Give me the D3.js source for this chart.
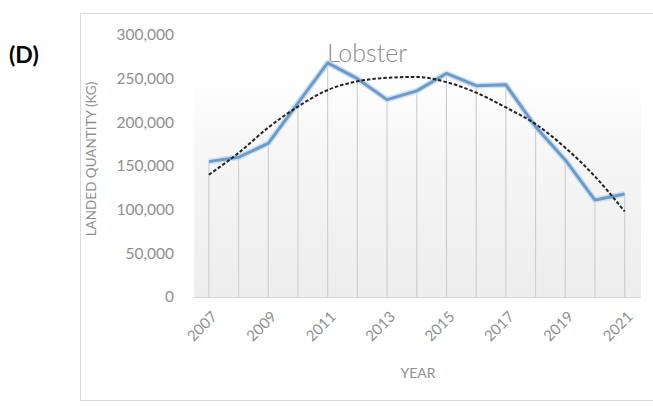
<!DOCTYPE html>
<html>
<head>
<meta charset="utf-8">
<script src="https://cdn.jsdelivr.net/npm/d3@7"></script>
<style>
  body { margin: 0; background: #fff; }
  text { font-family: Lato, "Open Sans", sans-serif; }
</style>
</head>
<body>
<svg width="653" height="407"></svg>
<script>
// values
var years = [2007, 2008, 2009, 2010, 2011, 2012, 2013, 2014, 2015, 2016, 2017, 2018, 2019, 2020, 2021];
var landed = [155000, 160000, 176000, 222000, 268000, 250000, 226000, 236000, 256000, 242000, 243000, 195000, 157000, 111000, 118000];
var trend = [140000, 165000, 194000, 218000, 237000, 247000, 251000, 252000, 246000, 234000, 217000, 198000, 171000, 138000, 98000];
var yTicks = [0, 50000, 100000, 150000, 200000, 250000, 300000];
var xLabels = [2007, 2009, 2011, 2013, 2015, 2017, 2019, 2021];

var svg = d3.select("svg");
var M = {left: 194, right: 641, top: 35, bottom: 297};

// frame
svg.append("rect")
    .attr("x", 80.5).attr("y", 13.5)
    .attr("width", 580).attr("height", 387)
    .attr("fill", "#fff")
    .attr("stroke", "#d9d9d9");

svg.append("text")
    .attr("x", 9).attr("y", 63)
    .attr("font-size", 23).attr("font-weight", "bold")
    .attr("fill", "#000")
    .text("(D)");

var x = d3.scaleLinear().domain([2006.5, 2021.55]).range([M.left, M.right]);
var y = d3.scaleLinear().domain([0, 300000]).range([M.bottom, M.top]);

// plot background gradient
var defs = svg.append("defs");
var grad = defs.append("linearGradient").attr("id", "bg")
    .attr("x1", 0).attr("y1", 0).attr("x2", 0).attr("y2", 1);
grad.append("stop").attr("offset", "0%").attr("stop-color", "#ffffff");
grad.append("stop").attr("offset", "30%").attr("stop-color", "#f7f7f7");
grad.append("stop").attr("offset", "100%").attr("stop-color", "#ededed");

svg.append("rect")
    .attr("x", M.left).attr("y", y(255000))
    .attr("width", M.right - M.left).attr("height", M.bottom - y(255000))
    .attr("fill", "url(#bg)");

// drop lines from each point
svg.append("g")
    .selectAll("line")
    .data(years)
    .enter().append("line")
    .attr("x1", d => x(d)).attr("x2", d => x(d))
    .attr("y1", (d, i) => y(landed[i])).attr("y2", M.bottom)
    .attr("stroke", "#cfcfcf").attr("stroke-width", 1.2);

svg.append("line")
    .attr("x1", M.left).attr("x2", M.right)
    .attr("y1", M.bottom + 0.5).attr("y2", M.bottom + 0.5)
    .attr("stroke", "#d6d6d6");

// y axis
var yAxis = svg.append("g")
    .attr("transform", "translate(" + (M.left - 17) + ",0)")
    .call(d3.axisLeft(y).tickValues(yTicks).tickSize(0).tickFormat(d3.format(",")));
yAxis.select(".domain").remove();
yAxis.selectAll("text")
    .attr("font-size", 15.5).attr("fill", "#8f8f8f")
    .attr("font-family", "Lato, sans-serif");

// x axis
var xAxis = svg.append("g")
    .attr("transform", "translate(0," + M.bottom + ")")
    .call(d3.axisBottom(x).tickValues(xLabels).tickSize(0).tickFormat(d3.format("d")));
xAxis.select(".domain").remove();
xAxis.selectAll("text")
    .attr("font-size", 15).attr("fill", "#8f8f8f")
    .attr("font-family", "Lato, sans-serif")
    .attr("text-anchor", "end")
    .attr("y", 0)
    .attr("dy", "0.35em")
    .attr("transform", "translate(5,17) rotate(-45)");

// axis titles
svg.append("text")
    .attr("transform", "translate(96,159) rotate(-90)")
    .attr("text-anchor", "middle")
    .attr("font-size", 13.5).attr("fill", "#8f8f8f")
    .text("LANDED QUANTITY (KG)");

svg.append("text")
    .attr("x", 418).attr("y", 378)
    .attr("text-anchor", "middle")
    .attr("font-size", 14).attr("fill", "#8f8f8f")
    .text("YEAR");

svg.append("text")
    .attr("x", 367).attr("y", 62)
    .attr("text-anchor", "middle")
    .attr("font-size", 25).attr("font-weight", 300).attr("fill", "#8c8c8c")
    .text("Lobster");

// data line
var line = d3.line()
    .x((d, i) => x(years[i]))
    .y(d => y(d));

svg.append("path")
    .datum(landed)
    .attr("d", line)
    .attr("fill", "none")
    .attr("stroke", "#cfe1f2")
    .attr("stroke-width", 6)
    .attr("stroke-linejoin", "round");

svg.append("path")
    .datum(landed)
    .attr("d", line)
    .attr("fill", "none")
    .attr("stroke", "#6a9bcb")
    .attr("stroke-width", 3)
    .attr("stroke-linejoin", "round");

// trend line
svg.append("path")
    .datum(trend)
    .attr("d", line.curve(d3.curveMonotoneX))
    .attr("fill", "none")
    .attr("stroke", "#222")
    .attr("stroke-width", 2)
    .attr("stroke-dasharray", "3.5,2");
</script>
</body>
</html>
